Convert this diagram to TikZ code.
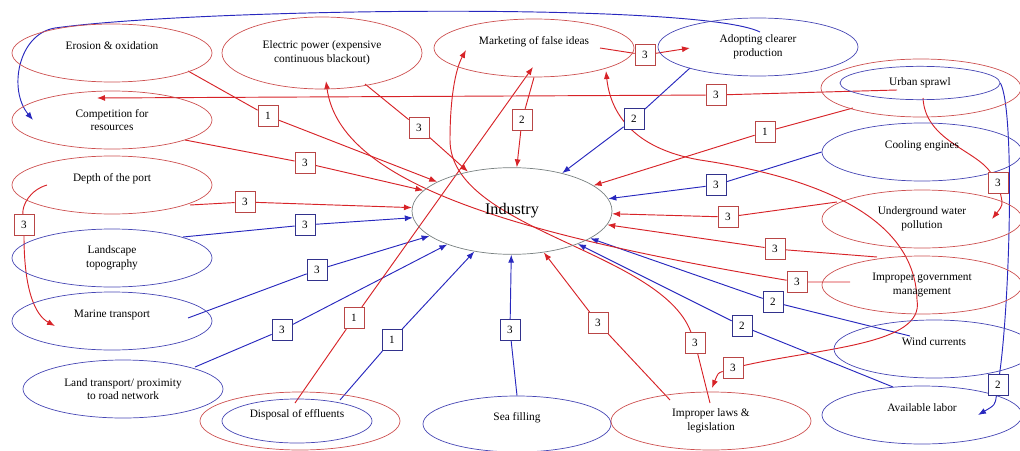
\documentclass[tikz,border=0pt]{standalone}
\usepackage{fontspec}
\setmainfont{Liberation Serif}
\usetikzlibrary{arrows.meta, shapes.geometric, positioning, backgrounds}
\definecolor{elred}{RGB}{205,80,80}
\definecolor{elblue}{RGB}{70,70,180}
\definecolor{lnred}{RGB}{215,35,40}
\definecolor{lnblue}{RGB}{40,40,190}
\definecolor{bxred}{RGB}{185,70,70}
\definecolor{bxblue}{RGB}{50,50,140}
\definecolor{indgray}{RGB}{120,128,128}

\begin{document}
\begin{tikzpicture}[x=0.03cm, y=-0.03cm, font=\fontsize{9.7}{11.5}\selectfont,
    ell/.style={ellipse, draw, line width=0.6pt, inner sep=0pt, minimum width=6cm, minimum height=1.74cm, align=center},
    elr/.style={ell, draw=elred},
    elb/.style={ell, draw=elblue},
    oneline/.style={text height=6.8pt, text depth=12.5pt},
    num/.style={draw, fill=white, line width=0.6pt, minimum width=0.6cm, minimum height=0.64cm, inner sep=0pt, font=\fontsize{9.5}{10}\selectfont},
    nr/.style={num, draw=bxred},
    nb/.style={num, draw=bxblue},
    rl/.style={draw=lnred, line width=0.8pt, -{Latex[length=2.4mm, width=1.8mm]}},
    bl/.style={draw=lnblue, line width=0.8pt, -{Latex[length=2.4mm, width=1.8mm]}}]
            \useasboundingbox (0,0) rectangle (1020,450);

            \node[ell, draw=indgray, minimum height=2.6cm, font=\fontsize{13.8}{15}\selectfont] (ind) at (512,211) {Industry};

            \node[elr, oneline] (ero) at (112,53) {Erosion \& oxidation};
            \node[elr] (com) at (112,120) {Competition for\\resources};
            \node[elr, oneline] (dep) at (112,185) {Depth of the port};
            \node[elb] (lan) at (112,258) {Landscape\\topography};
            \node[elb, oneline] (mar) at (112,321) {Marine transport};
            \node[elb] (lnd) at (123,389) {Land transport/ proximity\\to road network};
            \node[elr] (dis) at (300,421) {};
            \node[elb, oneline, minimum width=4.5cm, minimum height=1.32cm] (disin) at (297,421) {Disposal of effluents};
            \node[elb, oneline, minimum width=5.64cm, minimum height=1.68cm] (sea) at (517,424) {Sea filling};
            \node[elr] (law) at (711,421) {Improper laws \&\\legislation};
            \node[elb, oneline] (lab) at (922,415) {Available labor};
            \node[elb, oneline] (win) at (934,349) {Wind currents};
            \node[elr] (gov) at (922,285) {Improper government\\management};
            \node[elr] (und) at (922,219) {Underground water\\pollution};
            \node[elb, oneline] (coo) at (922,152) {Cooling engines};
            \node[elr] (urb) at (921,88) {};
            \node[elb, minimum width=4.8cm, minimum height=1cm] (urbin) at (920,83) {Urban sprawl};
            \node[elb] (ado) at (758,47) {Adopting clearer\\production};
            \node[elr, oneline] (mkt) at (534,48) {Marketing of false ideas};
            \node[elr, minimum height=2.16cm] (ele) at (322,53) {Electric power (expensive\\continuous blackout)};

            \node[nr] (k-ero) at (268,116) {1};
            \node[nr] (k-com) at (305,163) {3};
            \node[nr] (k-dep) at (245,202) {3};
            \node[nr] (k-dep2) at (24,225) {3};
            \node[nb] (k-lan) at (305,225) {3};
            \node[nb] (k-mar) at (317,270) {3};
            \node[nb] (k-lnd) at (282,330) {3};
            \node[nr] (k-dis1) at (354,318) {1};
            \node[nb] (k-dis2) at (392,340) {1};
            \node[nb] (k-sea) at (510,330) {3};
            \node[nr] (k-law) at (598,323) {3};
            \node[nr] (k-law2) at (695,343) {3};
            \node[nr] (k-gov3) at (733,368) {3};
            \node[nb] (k-lab) at (742,326) {2};
            \node[nb] (k-win) at (773,302) {2};
            \node[nr] (k-gov2) at (797,282) {3};
            \node[nr] (k-gov) at (775,249) {3};
            \node[nr] (k-und) at (728,217) {3};
            \node[nb] (k-coo) at (716,185) {3};
            \node[nr] (k-urb) at (765,132) {1};
            \node[nr] (k-urb2) at (716,95) {3};
            \node[nr] (k-urb3) at (998,183) {3};
            \node[nb] (k-urb4) at (998,385) {2};
            \node[nb] (k-ado) at (634,119) {2};
            \node[nr] (k-mkt) at (522,120) {2};
            \node[nr] (k-mkt2) at (645,55) {3};
            \node[nr] (k-ele) at (419,128) {3};

            \begin{scope}[on background layer]
                \draw[rl] ([shift={(76,18)}]ero.center) -- (k-ero) -- (ind);
                \draw[rl] ([shift={(73,20)}]com.center) -- (k-com) -- (ind);
                \draw[rl] ([shift={(78,20)}]dep.center) -- (k-dep) -- (ind);
                \draw[rl] ([shift={(43,31)}]ele.center) -- (k-ele) -- (ind);
                \draw[rl] (mkt.south) -- (k-mkt) -- (ind);
                \draw[rl] ([shift={(-68,20)}]urb.center) -- (k-urb) -- (ind);
                \draw[rl] ([shift={(-85,-17)}]und.center) -- (k-und) -- (ind);
                \draw[rl] ([shift={(-45,-28)}]gov.center) -- (k-gov) -- (ind);
                \draw[rl] ([shift={(-41,-21)}]law.center) -- (k-law) -- (ind);

                \draw[bl] ([shift={(-68,21)}]ado.center) -- (k-ado) -- (ind);
                \draw[bl] (coo.west) -- (k-coo) -- (ind);
                \draw[bl] ([shift={(-24,-13)}]win.center) -- (k-win) -- (ind);
                \draw[bl] ([shift={(-29,-28)}]lab.center) -- (k-lab) -- (ind);
                \draw[bl] (sea.north) -- (k-sea) -- (ind);
                \draw[bl] ([shift={(40,-21)}]dis.center) -- (k-dis2) -- (ind);
                \draw[bl] ([shift={(72,-22)}]lnd.center) -- (k-lnd) -- (ind);
                \draw[bl] ([shift={(76,-3)}]mar.center) -- (k-mar) -- (ind);
                \draw[bl] ([shift={(71,-21)}]lan.center) -- (k-lan) -- (ind);

                \draw[rl] ([shift={(-5,-18)}]dis.center) -- (k-dis1) -- ([shift={(-1,19)}]mkt.center);
                \draw[rl] ([shift={(66,0)}]mkt.center) -- (k-mkt2) -- ([shift={(-68,1)}]ado.center);
                \draw[rl] ([shift={(-24,2)}]urb.center) -- (k-urb2) -- ([shift={(-15,-22)}]com.center);
                \draw[bl] ([shift={(2,-15)}]ado.center) .. controls (700,2) and (200,8) .. (55,28) .. controls (18,34) and (8,90) .. ([shift={(-79,0)}]com.center);
                \draw[rl] ([shift={(-65,0)}]dep.center) .. controls (30,190) and (22,205) .. (k-dep2) .. controls (24,290) and (35,315) .. ([shift={(-57,5)}]mar.center);
                \draw[rl] ([shift={(2,10)}]urb.center) .. controls (925,140) and (975,150) .. (k-urb3) .. controls (1003,205) .. ([shift={(70,0)}]und.center);
                \draw[bl] (urbin.east) .. controls (1015,110) and (1010,300) .. (k-urb4) .. controls (995,405) .. ([shift={(56,0)}]lab.center);
                \draw[rl] ([shift={(-72,-3)}]gov.center) -- (k-gov2) .. controls (520,235) and (340,185) .. ([shift={(4,28)}]ele.center);
                \draw[rl] ([shift={(-1,-18)}]law.center) -- (k-law2) .. controls (660,250) and (450,230) .. (450,140) .. controls (450,100) and (455,70) .. ([shift={(-68,2)}]mkt.center);
                \draw[rl] ([shift={(-5,15)}]gov.center) .. controls (915,210) and (800,175) .. (700,160) .. controls (630,148) and (610,110) .. ([shift={(72,23)}]mkt.center);
                \draw[rl] ([shift={(-5,15)}]gov.center) .. controls (925,345) and (820,348) .. (k-gov3) .. controls (718,373) .. ([shift={(1,-33)}]law.center);
            \end{scope}
        \end{tikzpicture}
\end{document}
